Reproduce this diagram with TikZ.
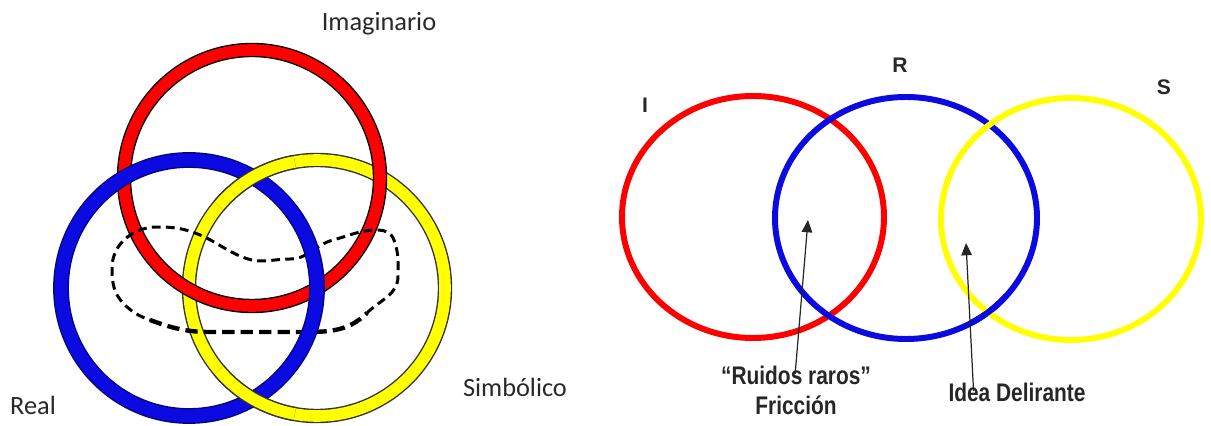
\documentclass[tikz,border=0pt]{standalone}
\usepackage{fontspec}
\newfontfamily\carlito{Carlito}
\newfontfamily\estrecha[FakeStretch=0.82]{Liberation Sans}
\newfontfamily\arialb{Liberation Sans}
\usetikzlibrary{arrows.meta, positioning}
\definecolor{AnilloRojo}{RGB}{255,0,0}
\definecolor{AnilloAzul}{RGB}{10,10,225}
\definecolor{AnilloAmarillo}{RGB}{255,255,0}
\definecolor{TextoGris}{RGB}{40,40,40}

\begin{document}
\begin{tikzpicture}[
    x=0.02cm, y=0.02cm,
    anillo/.style={line width=0.8pt, double distance=6.6pt},
    anilloRojo/.style={anillo, draw=black, double=AnilloRojo},
    anilloAzul/.style={anillo, draw=AnilloAzul!55!black, double=AnilloAzul, double distance=7.4pt},
    anilloAmarillo/.style={anillo, draw=black!80, double=AnilloAmarillo},
    aro/.style={line width=3.4pt},
    trazo/.style={black, line width=1.7pt, dash pattern=on 5pt off 3pt},
    trazoGrueso/.style={black, line width=2.5pt, dash pattern=on 7pt off 3.5pt},
    nombre/.style={font=\carlito\fontsize{15}{18}\selectfont, text=TextoGris},
    letra/.style={font=\arialb\bfseries\fontsize{12}{14}\selectfont, text=TextoGris},
    nota/.style={font=\estrecha\bfseries\fontsize{14.5}{17}\selectfont, text=black!85,
        align=center, inner sep=1pt},
    flecha/.style={-{Triangle[length=7pt, width=6pt]}, line width=0.7pt, black!85,
        shorten <=-6pt},
]
\useasboundingbox (0,0) rectangle (1211,426);

% nudo borromeo
\coordinate (cRojo) at (252,248);
\coordinate (cAzul) at (189,138);
\coordinate (cAmar) at (317,138);

\draw[anilloAmarillo] (cAmar) circle[radius=128];
\draw[anilloRojo] (cRojo) circle[radius=128];

% curva discontinua
\draw[trazo] (367,113) to[out=45,in=-90] (398,150) to[out=90,in=-70] (394,186)
    to[out=110,in=0] (378,196) to[out=180,in=15] (333,186) to[out=195,in=0] (290,167)
    to[out=180,in=-20] (245,168) to[out=160,in=-20] (195,193) to[out=160,in=0] (157,199)
    to[out=180,in=90] (112,158) to[out=-90,in=135] (124,122) to[out=-45,in=160] (150,106);
\draw[trazoGrueso] (150,106) to[out=-20,in=180] (210,94) -- (300,94)
    to[out=0,in=-135] (367,113);

\draw[anilloAzul] (cAzul) circle[radius=128];

% amarillo por encima del azul
\draw[anilloAmarillo] (cAmar) ++(100:128) arc[start angle=100, end angle=140, radius=128];
\draw[anilloAmarillo] (cAmar) ++(220:128) arc[start angle=220, end angle=260, radius=128];

\node[nombre] (imag) at (379,402) {Imaginario};
\node[nombre] (real) at (33,21) {Real};
\node[nombre] (simb) at (515,39) {Simbólico};

% circulos I R S
\draw[aro, AnilloRojo] (753,209) ellipse[x radius=131, y radius=121];
\draw[aro, AnilloAzul] (906,208) ellipse[x radius=131, y radius=121];
\draw[aro, AnilloAmarillo] (1071,207) ellipse[x radius=130, y radius=121];
\draw[aro, AnilloAzul] (906,208) ++(-60:131 and 121) arc[start angle=-60, end angle=-40,
    x radius=131, y radius=121];

\node[letra] (li) at (645,321) {I};
\node[letra] (lr) at (900,361) {R};
\node[letra] (ls) at (1164,339) {S};

% notas y flechas
\coordinate (puntaA) at (808,206);
\coordinate (puntaB) at (966,183);
\node[nota] (ruidos) at (796,36) {“Ruidos raros”\\Fricción};
\node[nota] (idea) at (1017,34) {Idea Delirante};

\draw[flecha] (ruidos.north) -- (puntaA);
\draw[flecha] ([xshift=-0.88cm]idea.north) -- (puntaB);

\end{tikzpicture}
\end{document}
